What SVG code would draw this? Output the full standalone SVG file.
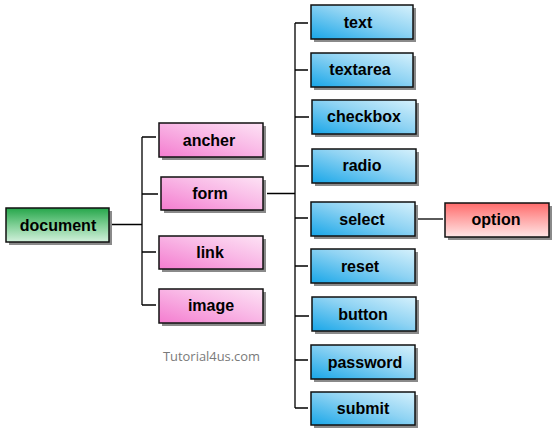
<svg xmlns="http://www.w3.org/2000/svg" width="556" height="435" viewBox="0 0 556 435">
<defs>
<linearGradient id="gBlue" x1="0" y1="1" x2="1" y2="0"><stop offset="0" stop-color="#18a6e8"/><stop offset="0.55" stop-color="#8fd3f3"/><stop offset="1" stop-color="#d6f1fc"/></linearGradient>
<linearGradient id="gPink" x1="0" y1="1" x2="1" y2="0"><stop offset="0" stop-color="#f47ccf"/><stop offset="0.55" stop-color="#f9b8e6"/><stop offset="1" stop-color="#fde3f5"/></linearGradient>
<linearGradient id="gGreen" x1="0" y1="0" x2="0" y2="1"><stop offset="0" stop-color="#25a64a"/><stop offset="0.5" stop-color="#7fcf95"/><stop offset="1" stop-color="#d2f0dc"/></linearGradient>
<linearGradient id="gRed" x1="0" y1="0" x2="0" y2="1"><stop offset="0" stop-color="#ff6b6b"/><stop offset="0.5" stop-color="#ffaaaa"/><stop offset="1" stop-color="#ffe6e6"/></linearGradient>
</defs>
<style>
.sh{fill:#8a8a8a}
.box{stroke:#111;stroke-width:1.5}
.blue{fill:url(#gBlue)}
.pink{fill:url(#gPink)}
.green{fill:url(#gGreen)}
.red{fill:url(#gRed)}
.lbl{font-family:"Liberation Sans",Arial,sans-serif;font-weight:bold;font-size:16px;fill:#000;text-anchor:middle}
.ln{stroke:#000;stroke-width:1.3;fill:none}
</style>
<rect width="556" height="435" fill="#fff"/>
<g id="connectors">
<path class="ln" d="M112 224.5H142M142 137V305M142 137H156M142 194H158M142 252H156M142 305H156"/>
<path class="ln" d="M267 193.5H295M295 23V408M295 23H308M295 70H308M295 117H309M295 166H309M295 218H308M295 266H308M295 316H309M295 360H308M295 408H308"/>
<path class="ln" d="M417 219H443"/>
</g>
<g id="document"><rect class="sh" x="9" y="211" width="103" height="34"/><rect class="box green" x="6" y="208" width="103" height="34"/><text class="lbl" x="58" y="230.5">document</text></g>
<g id="ancher"><rect class="sh" x="162" y="126" width="104" height="34"/><rect class="box pink" x="159" y="123" width="104" height="34"/><text class="lbl" x="209" y="145.5">ancher</text></g>
<g id="form"><rect class="sh" x="164" y="180" width="102" height="33"/><rect class="box pink" x="161" y="177" width="102" height="33"/><text class="lbl" x="210" y="198.5">form</text></g>
<g id="link"><rect class="sh" x="162" y="239" width="104" height="33"/><rect class="box pink" x="159" y="236" width="104" height="33"/><text class="lbl" x="210" y="258">link</text></g>
<g id="image"><rect class="sh" x="162" y="292" width="104" height="34"/><rect class="box pink" x="159" y="289" width="104" height="34"/><text class="lbl" x="211" y="311">image</text></g>
<g id="text"><rect class="sh" x="314" y="8" width="102" height="34"/><rect class="box blue" x="311" y="5" width="102" height="34"/><text class="lbl" x="358" y="27.5">text</text></g>
<g id="textarea"><rect class="sh" x="314" y="56" width="102" height="34"/><rect class="box blue" x="311" y="53" width="102" height="34"/><text class="lbl" x="360" y="75">textarea</text></g>
<g id="checkbox"><rect class="sh" x="315" y="103" width="104" height="34"/><rect class="box blue" x="312" y="100" width="104" height="34"/><text class="lbl" x="364" y="122">checkbox</text></g>
<g id="radio"><rect class="sh" x="315" y="152" width="104" height="34"/><rect class="box blue" x="312" y="149" width="104" height="34"/><text class="lbl" x="362" y="171">radio</text></g>
<g id="select"><rect class="sh" x="314" y="205" width="104" height="34"/><rect class="box blue" x="311" y="202" width="104" height="34"/><text class="lbl" x="362" y="224.5">select</text></g>
<g id="option"><rect class="sh" x="448" y="206" width="104" height="34"/><rect class="box red" x="445" y="203" width="104" height="34"/><text class="lbl" x="496" y="225">option</text></g>
<g id="reset"><rect class="sh" x="314" y="252" width="104" height="34"/><rect class="box blue" x="311" y="249" width="104" height="34"/><text class="lbl" x="360" y="271.5">reset</text></g>
<g id="button"><rect class="sh" x="315" y="300" width="104" height="34"/><rect class="box blue" x="312" y="297" width="104" height="34"/><text class="lbl" x="363" y="319.5">button</text></g>
<g id="password"><rect class="sh" x="314" y="348" width="104" height="34"/><rect class="box blue" x="311" y="345" width="104" height="34"/><text class="lbl" x="365" y="367.5">password</text></g>
<g id="submit"><rect class="sh" x="314" y="395" width="104" height="33"/><rect class="box blue" x="311" y="392" width="104" height="33"/><text class="lbl" x="363" y="414">submit</text></g>
<text x="163" y="361" font-family="'Open Sans','DejaVu Sans',sans-serif" font-size="13" fill="#7a7a7a" textLength="97" lengthAdjust="spacingAndGlyphs">Tutorial4us.com</text>
</svg>
